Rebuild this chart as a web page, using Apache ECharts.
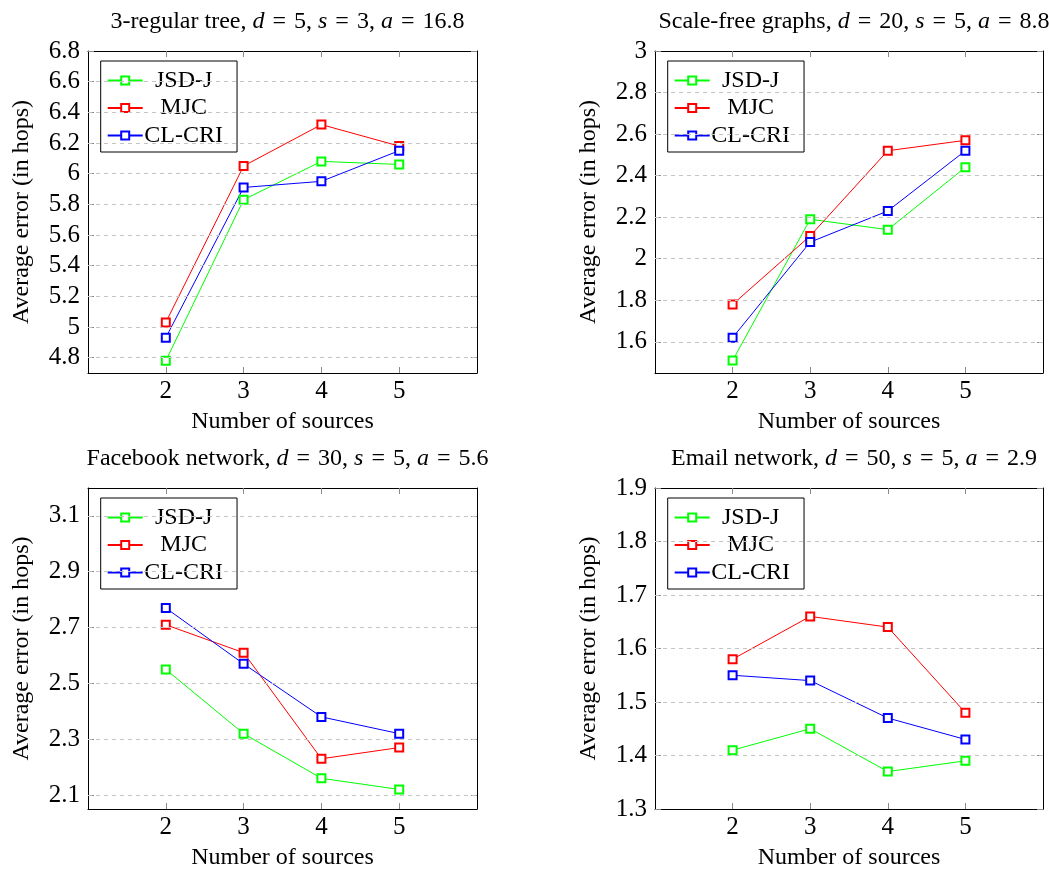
<!DOCTYPE html>
<html>
<head>
<meta charset="utf-8">
<script src="https://cdn.jsdelivr.net/npm/echarts@6/dist/echarts.min.js"></script>
<style>
  html, body { margin: 0; padding: 0; background: #fff; }
  #chart { width: 1049px; height: 871px; }
</style>
</head>
<body>
<div id="chart"></div>
<script>
// Number of sources on the x axis
const sources = [2, 3, 4, 5];
const seriesNames = ['JSD-J', 'MJC', 'CL-CRI'];

// 3-regular tree
const treeJSD = [4.78, 5.83, 6.08, 6.06];
const treeMJC = [5.03, 6.05, 6.32, 6.18];
const treeCL  = [4.93, 5.91, 5.95, 6.15];
const treeTicks = [4.8, 5.0, 5.2, 5.4, 5.6, 5.8, 6.0, 6.2, 6.4, 6.6, 6.8];
const treeRange = [4.7, 6.8];

// Scale-free graphs
const scaleJSD = [1.51, 2.19, 2.14, 2.44];
const scaleMJC = [1.78, 2.11, 2.52, 2.57];
const scaleCL  = [1.62, 2.08, 2.23, 2.52];
const scaleTicks = [1.6, 1.8, 2.0, 2.2, 2.4, 2.6, 2.8, 3.0];
const scaleRange = [1.45, 3.0];

// Facebook network
const fbJSD = [2.55, 2.32, 2.16, 2.12];
const fbMJC = [2.71, 2.61, 2.23, 2.27];
const fbCL  = [2.77, 2.57, 2.38, 2.32];
const fbTicks = [2.1, 2.3, 2.5, 2.7, 2.9, 3.1];
const fbRange = [2.05, 3.2];

// Email network
const emailJSD = [1.41, 1.45, 1.37, 1.39];
const emailMJC = [1.58, 1.66, 1.64, 1.48];
const emailCL  = [1.55, 1.54, 1.47, 1.43];
const emailTicks = [1.3, 1.4, 1.5, 1.6, 1.7, 1.8, 1.9];
const emailRange = [1.3, 1.9];

const xRange = [1, 6];

// math-style spacing around "=" in the titles
const EQ = '\u2004=\u2004';

const panels = [
  { title: '3-regular tree, {i|d}' + EQ + '5, {i|s}' + EQ + '3, {i|a}' + EQ + '16.8',
    values: [treeJSD, treeMJC, treeCL], ticks: treeTicks, range: treeRange,
    left: 88, top: 51, width: 389, height: 322 },
  { title: 'Scale-free graphs, {i|d}' + EQ + '20, {i|s}' + EQ + '5, {i|a}' + EQ + '8.8',
    values: [scaleJSD, scaleMJC, scaleCL], ticks: scaleTicks, range: scaleRange,
    left: 655, top: 51, width: 388, height: 322 },
  { title: 'Facebook network, {i|d}' + EQ + '30, {i|s}' + EQ + '5, {i|a}' + EQ + '5.6',
    values: [fbJSD, fbMJC, fbCL], ticks: fbTicks, range: fbRange,
    left: 88, top: 488, width: 389, height: 322 },
  { title: 'Email network, {i|d}' + EQ + '50, {i|s}' + EQ + '5, {i|a}' + EQ + '2.9',
    values: [emailJSD, emailMJC, emailCL], ticks: emailTicks, range: emailRange,
    left: 655, top: 488, width: 388, height: 322 }
];

const colors = ['#00ff00', '#ff0000', '#0000ff'];
const FONT = "'Liberation Serif', 'DejaVu Serif', 'Times New Roman', serif";
const tickStyle = { color: '#8a8a8a', width: 1 };
const frameStyle = { color: '#000', width: 1 };

const grid = [], xAxis = [], yAxis = [], series = [], title = [], legend = [];

panels.forEach((p, i) => {
  grid.push({ left: p.left, top: p.top, width: p.width, height: p.height, containLabel: false });

  title.push({
    text: p.title,
    left: p.left + p.width / 2,
    top: p.top - 46,
    textAlign: 'center',
    textStyle: {
      fontFamily: FONT, fontSize: 24, fontWeight: 'normal', color: '#000',
      rich: { i: { fontFamily: FONT, fontSize: 24, fontStyle: 'italic', color: '#000' } }
    }
  });

  // bottom x axis
  xAxis.push({
    type: 'value', gridIndex: i, min: xRange[0], max: xRange[1], position: 'bottom',
    name: 'Number of sources', nameLocation: 'middle', nameGap: 37,
    nameTextStyle: { fontFamily: FONT, fontSize: 24, color: '#000' },
    axisLine: { show: true, onZero: false, lineStyle: frameStyle },
    axisTick: { show: true, inside: true, length: 6, lineStyle: tickStyle, customValues: sources },
    axisLabel: { fontFamily: FONT, fontSize: 25, color: '#000', margin: 6, customValues: sources },
    splitLine: { show: false }
  });
  // top frame edge
  xAxis.push({
    type: 'value', gridIndex: i, min: xRange[0], max: xRange[1], position: 'top',
    axisLine: { show: true, onZero: false, lineStyle: frameStyle },
    axisTick: { show: true, inside: true, length: 6, lineStyle: tickStyle, customValues: sources },
    axisLabel: { show: false },
    splitLine: { show: false }
  });
  // left y axis
  yAxis.push({
    type: 'value', gridIndex: i, min: p.range[0], max: p.range[1], position: 'left',
    name: 'Average error (in hops)', nameLocation: 'middle', nameGap: 54,
    nameTextStyle: { fontFamily: FONT, fontSize: 24, color: '#000' },
    axisLine: { show: true, onZero: false, lineStyle: frameStyle },
    axisTick: { show: true, inside: true, length: 6, lineStyle: tickStyle, customValues: p.ticks },
    axisLabel: { fontFamily: FONT, fontSize: 25, color: '#000', margin: 8, customValues: p.ticks },
    splitLine: { show: false }
  });
  // right frame edge
  yAxis.push({
    type: 'value', gridIndex: i, min: p.range[0], max: p.range[1], position: 'right',
    axisLine: { show: true, onZero: false, lineStyle: frameStyle },
    axisTick: { show: true, inside: true, length: 6, lineStyle: tickStyle, customValues: p.ticks },
    axisLabel: { show: false },
    splitLine: { show: false }
  });

  // dashed horizontal grid lines at the y tick values
  series.push({
    type: 'line', name: 'grid' + i, xAxisIndex: 2 * i, yAxisIndex: 2 * i, data: [], z: 1,
    silent: true,
    markLine: {
      silent: true, symbol: ['none', 'none'], label: { show: false },
      lineStyle: { type: [4, 4], color: '#c4c4c4', width: 1 },
      emphasis: { disabled: true },
      data: p.ticks.filter(v => v > p.range[0] && v < p.range[1]).map(v => ({ yAxis: v }))
    }
  });

  seriesNames.forEach((name, k) => {
    series.push({
      type: 'line', name: name, xAxisIndex: 2 * i, yAxisIndex: 2 * i, z: 3,
      data: sources.map((s, j) => [s, p.values[k][j]]),
      symbol: 'emptyRect', symbolSize: 8,
      lineStyle: { color: colors[k], width: 1 },
      itemStyle: { color: colors[k], borderColor: colors[k], borderWidth: 1 },
      emphasis: { disabled: true }
    });
  });

  legend.push({
    data: seriesNames, orient: 'vertical',
    left: p.left + 12.7, top: p.top + 10,
    padding: [7.6, 14, 4.4, 6], itemGap: 3.5,
    itemWidth: 35, itemHeight: 10,
    backgroundColor: '#fff', borderColor: '#000', borderWidth: 1,
    selectedMode: false,
    formatter: n => '{c|' + n + '}',
    textStyle: {
      fontFamily: FONT, fontSize: 24, color: '#000',
      rich: { c: { width: 72, align: 'center', fontFamily: FONT, fontSize: 24, color: '#000' } }
    }
  });
});

const chart = echarts.init(document.getElementById('chart'), null, { renderer: 'canvas' });
chart.setOption({
  animation: false,
  backgroundColor: '#fff',
  title, grid, xAxis, yAxis, series, legend,
  tooltip: { show: false }
});
</script>
</body>
</html>
